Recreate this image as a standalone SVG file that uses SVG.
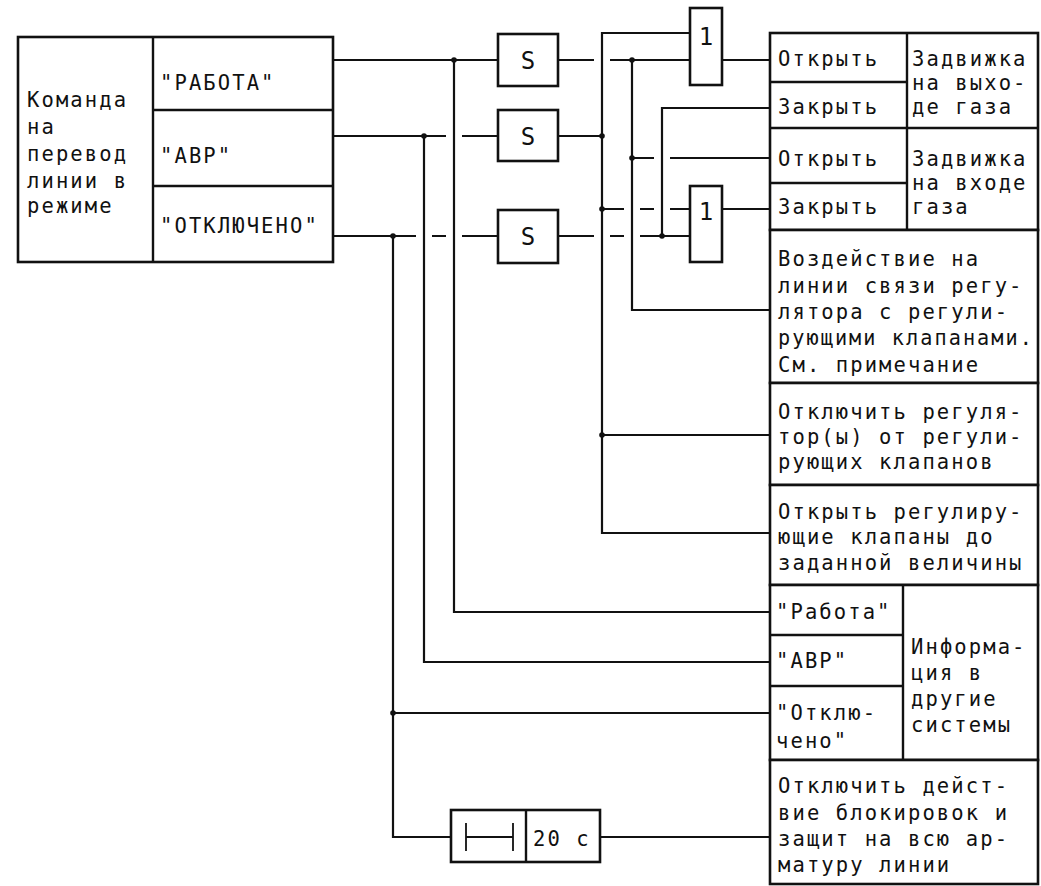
<svg xmlns="http://www.w3.org/2000/svg" width="1041" height="886" viewBox="0 0 1041 886">
<style>
.box{fill:#fff;stroke:#111;stroke-width:2.6}
.ln{fill:none;stroke:#111;stroke-width:2.2}
.dv{fill:none;stroke:#111;stroke-width:2.4}
text{font-family:"DejaVu Sans Mono","Liberation Mono",monospace;font-size:20.5px;letter-spacing:2.1px;fill:#111}
.g{font-size:24px;letter-spacing:0;text-anchor:middle}
</style>
<defs>
<circle id="dot" r="2.8" fill="#111"/>
</defs>
<rect x="0" y="0" width="1041" height="886" fill="#fff"/>

<g id="connectors">
<!-- Работа -->
<path class="ln" d="M333,60 H498"/>
<path class="ln" d="M454,60 V612 H770"/>
<!-- АВР -->
<path class="ln" d="M333,136 H446 M462,136 H498"/>
<path class="ln" d="M424,136 V662 H770"/>
<!-- Отключено -->
<path class="ln" d="M333,236 H416 M432,236 H446 M462,236 H498"/>
<path class="ln" d="M393,236 V837 H451"/>
<path class="ln" d="M393,713 H770"/>
<!-- S1 out -->
<path class="ln" d="M558,60 H594 M610,60 H690"/>
<path class="ln" d="M632,60 V310 H770"/>
<path class="ln" d="M632,158 H654 M670,158 H770"/>
<!-- S2 out -->
<path class="ln" d="M558,136 H602"/>
<path class="ln" d="M690,33 H602 V533 H770"/>
<path class="ln" d="M602,209 H624 M640,209 H654 M670,209 H690"/>
<path class="ln" d="M602,435 H770"/>
<!-- S3 out -->
<path class="ln" d="M558,236 H594 M610,236 H624 M640,236 H690"/>
<path class="ln" d="M662,236 V108 H770"/>
<!-- OR outputs -->
<path class="ln" d="M722,60 H770"/>
<path class="ln" d="M722,209 H770"/>
<!-- timer out -->
<path class="ln" d="M600,837 H770"/>
<!-- junction dots -->
<use href="#dot" x="454" y="60"/>
<use href="#dot" x="424" y="136"/>
<use href="#dot" x="393" y="236"/>
<use href="#dot" x="393" y="713"/>
<use href="#dot" x="632" y="60"/>
<use href="#dot" x="632" y="158"/>
<use href="#dot" x="602" y="136"/>
<use href="#dot" x="602" y="209"/>
<use href="#dot" x="602" y="435"/>
<use href="#dot" x="662" y="236"/>
</g>

<g id="command">
<rect class="box" x="18" y="37" width="315" height="225"/>
<path class="dv" d="M153,37 V262 M153,110 H333 M153,186 H333"/>
<text x="27" y="107">Команда</text>
<text x="27" y="134">на</text>
<text x="27" y="161">перевод</text>
<text x="27" y="188">линии в</text>
<text x="27" y="213">режиме</text>
<text x="160" y="90">"РАБОТА"</text>
<text x="160" y="163">"АВР"</text>
<text x="160" y="233">"ОТКЛЮЧЕНО"</text>
</g>

<g id="s1"><rect class="box" x="498" y="34" width="60" height="52"/><text class="g" x="528" y="69">S</text></g>
<g id="s2"><rect class="box" x="498" y="110" width="60" height="51"/><text class="g" x="528" y="145">S</text></g>
<g id="s3"><rect class="box" x="498" y="210" width="60" height="53"/><text class="g" x="528" y="245">S</text></g>

<g id="or1"><rect class="box" x="690" y="8" width="32" height="77"/><text class="g" x="706" y="45">1</text></g>
<g id="or2"><rect class="box" x="690" y="186" width="32" height="76"/><text class="g" x="706" y="220">1</text></g>

<g id="timer">
<rect class="box" x="451" y="810" width="149" height="52"/>
<path class="dv" d="M526,810 V862"/>
<path class="ln" d="M466,823 V851 M513,823 V851 M466,837 H513" style="stroke-width:1.8"/>
<text x="533" y="846">20 с</text>
</g>

<g id="valves">
<rect class="box" x="770" y="33" width="268" height="197"/>
<path class="dv" d="M907,33 V230 M770,82 H907 M770,128 H1038 M770,183 H907"/>
<text x="778" y="66">Открыть</text>
<text x="778" y="114">Закрыть</text>
<text x="778" y="166">Открыть</text>
<text x="778" y="214">Закрыть</text>
<text x="912" y="66">Задвижка</text>
<text x="912" y="90">на выхо-</text>
<text x="912" y="114">де газа</text>
<text x="912" y="166">Задвижка</text>
<text x="912" y="190">на входе</text>
<text x="912" y="214">газа</text>
</g>

<g id="regulator-link">
<rect class="box" x="770" y="230" width="268" height="153"/>
<text x="778" y="266">Воздействие на</text>
<text x="778" y="293">линии связи регу-</text>
<text x="778" y="319">лятора с регули-</text>
<text x="778" y="345" textLength="256" lengthAdjust="spacingAndGlyphs">рующими клапанами.</text>
<text x="778" y="372">См. примечание</text>
</g>

<g id="disconnect-regulator">
<rect class="box" x="770" y="383" width="268" height="102"/>
<text x="778" y="419">Отключить регуля-</text>
<text x="778" y="444">тор(ы) от регули-</text>
<text x="778" y="469">рующих клапанов</text>
</g>

<g id="open-valves">
<rect class="box" x="770" y="485" width="268" height="100"/>
<text x="778" y="519">Открыть регулиру-</text>
<text x="778" y="544">ющие клапаны до</text>
<text x="778" y="570">заданной величины</text>
</g>

<g id="info">
<rect class="box" x="770" y="585" width="268" height="175"/>
<path class="dv" d="M903,585 V760 M770,635 H903 M770,686 H903"/>
<text x="776" y="619">"Работа"</text>
<text x="776" y="668">"АВР"</text>
<text x="776" y="720">"Отклю-</text>
<text x="776" y="748">чено"</text>
<text x="911" y="654">Информа-</text>
<text x="911" y="680">ция в</text>
<text x="911" y="706">другие</text>
<text x="911" y="732">системы</text>
</g>

<g id="disable-protections">
<rect class="box" x="770" y="760" width="268" height="124"/>
<text x="778" y="793">Отключить дейст-</text>
<text x="778" y="820">вие блокировок и</text>
<text x="778" y="846">защит на всю ар-</text>
<text x="778" y="872">матуру линии</text>
</g>
</svg>
